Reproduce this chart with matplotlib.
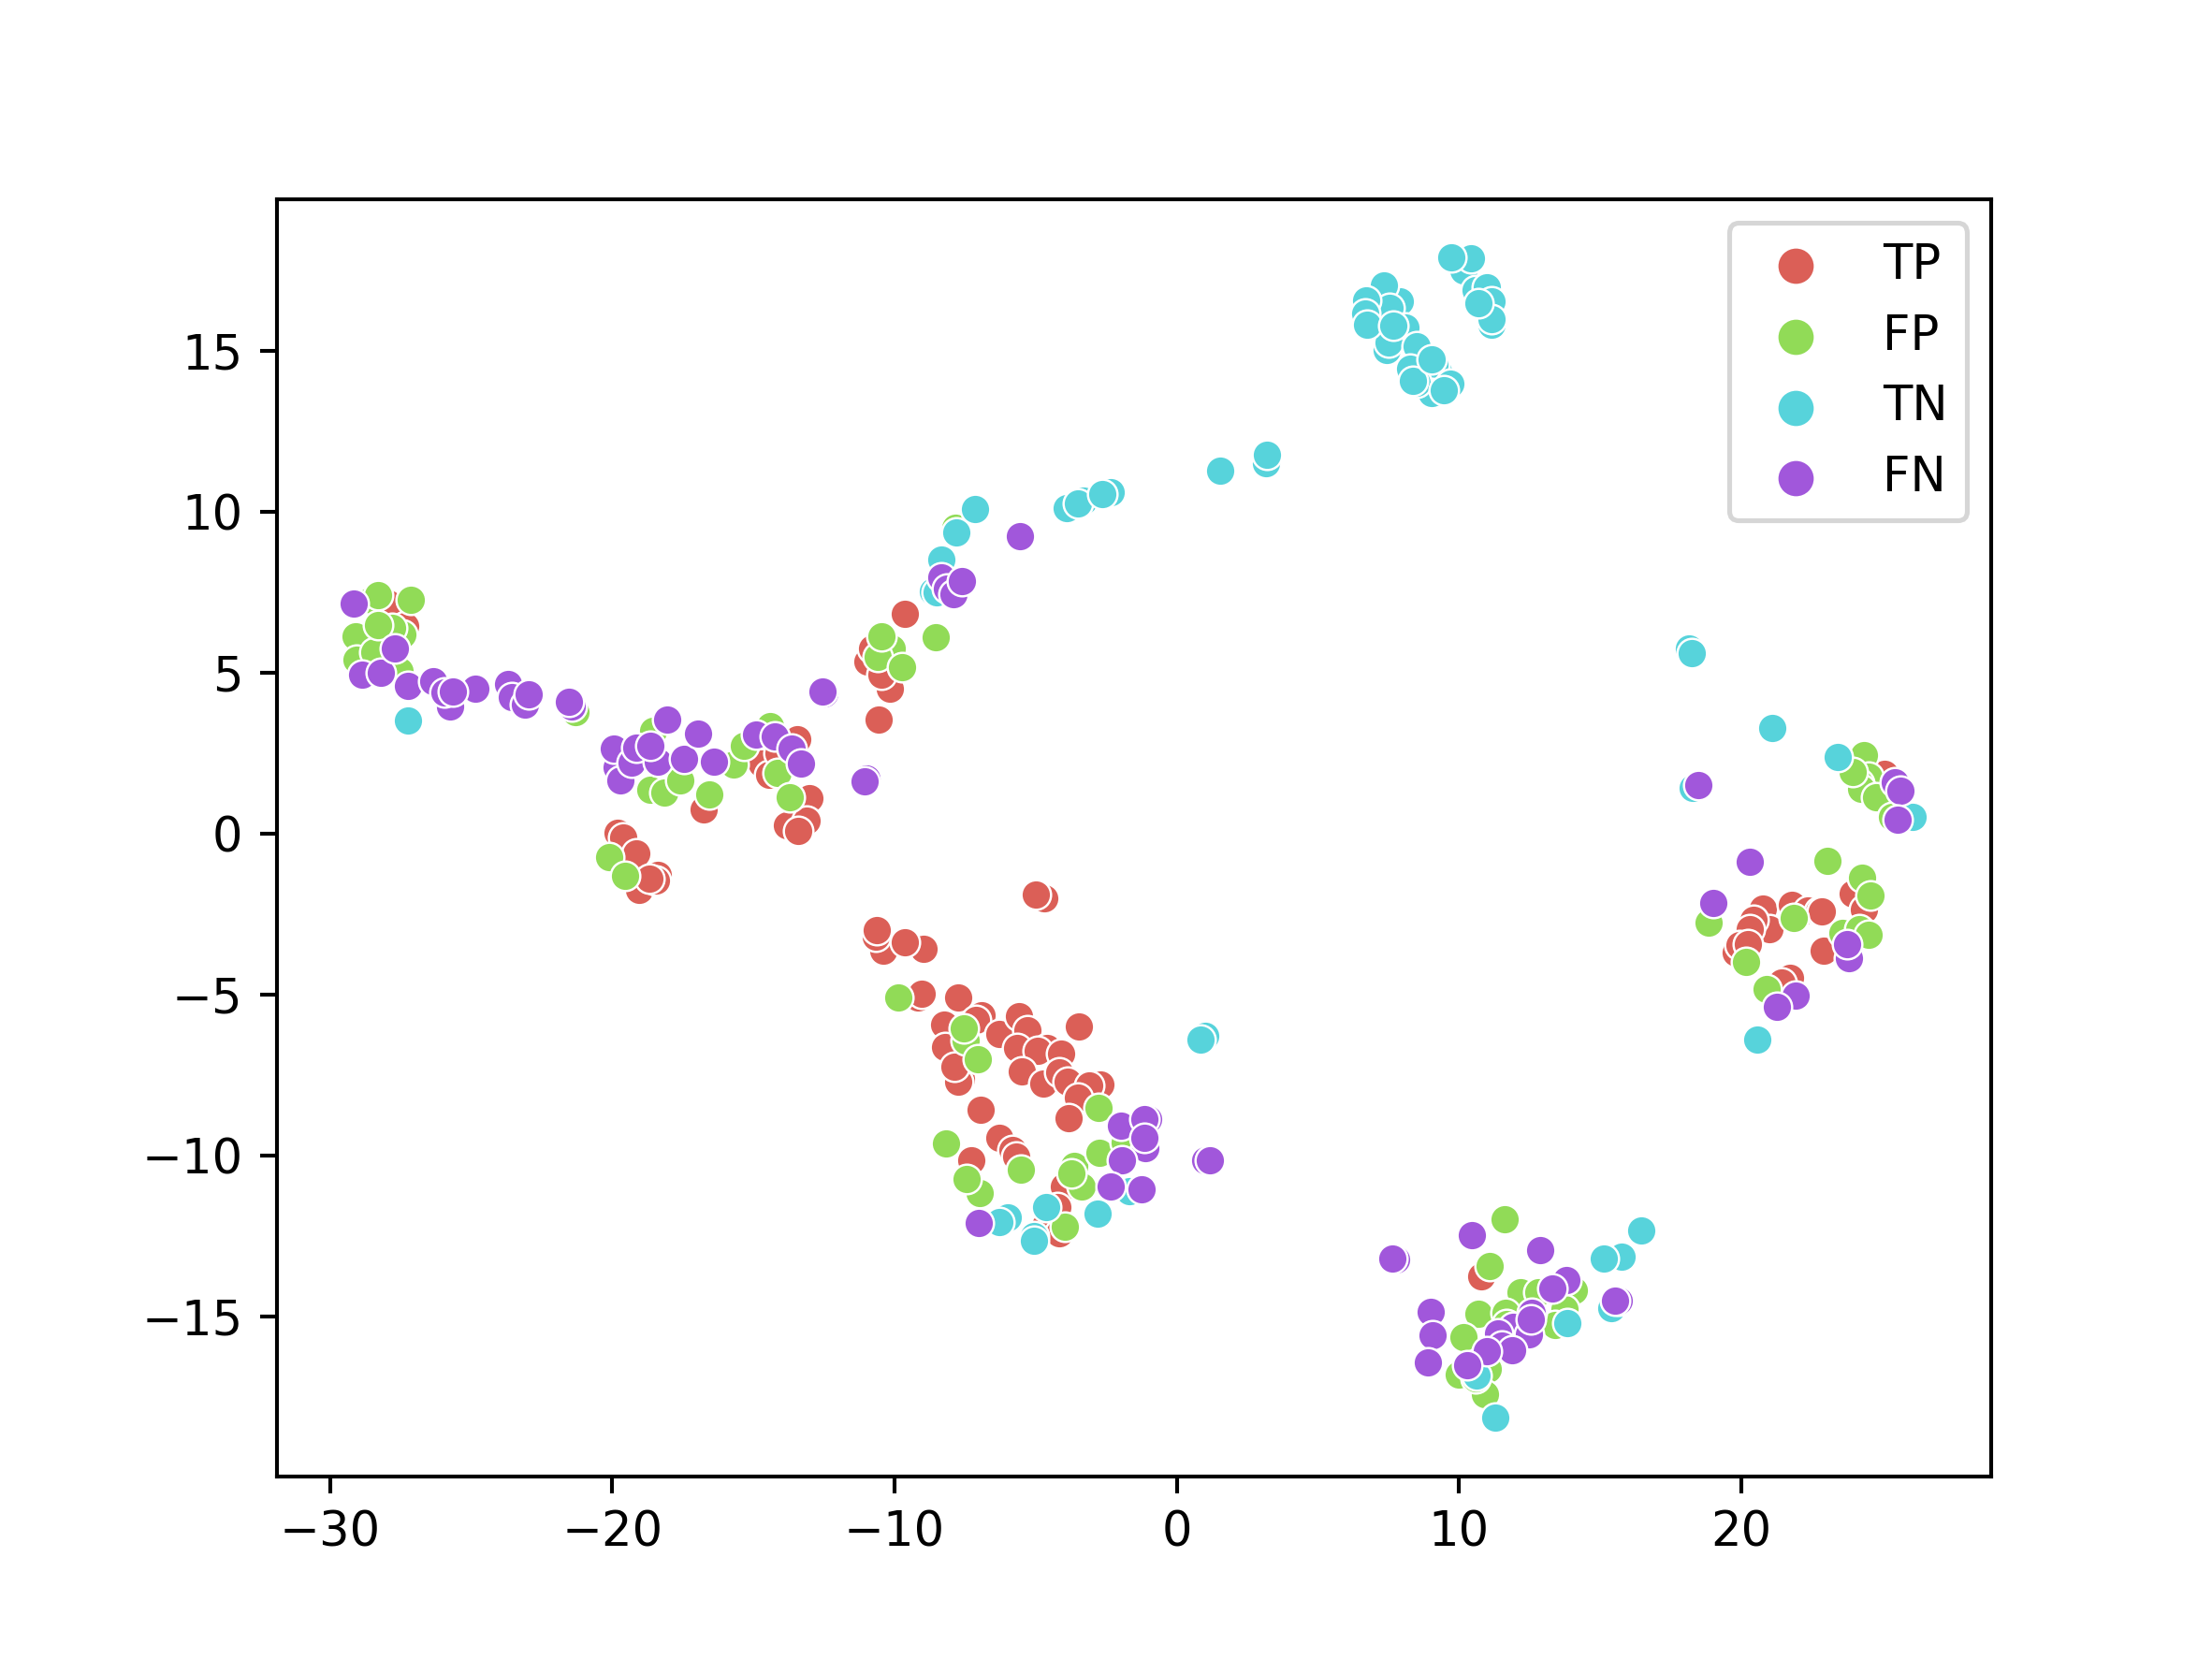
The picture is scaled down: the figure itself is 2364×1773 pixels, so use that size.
import matplotlib
matplotlib.use("Agg")
import matplotlib.pyplot as plt

labels = ["TP", "FP", "TN", "FN"]
colors = ["#db5f57", "#91db57", "#57d3db", "#a157db"]

tp_x = [-27.95,-27.35,-14.7,-14.45,-13.45,-14.1,-13,-13.8,-13.1,-13.4,-16.75,
        -19.8,-19.6,-19.15,-19.05,-18.4,-18.45,-18.7,-9.65,-10.95,-10.8,-10.15,-10.55,-10.45,
        -4.69,-5.0,-10.41,-10.66,-10.62,-8.96,-9.64,-9.16,-9.05,-7.74,-6.93,-7.1,-8.23,-8.2,-7.66,-7.74,-7.89,
        -6.29,-5.6,-5.3,-5.66,-4.58,-4.94,-4.08,-3.48,-5.48,-4.74,-4.17,-3.87,-2.7,-3.11,-3.5,-3.84,-6.95,
        -6.29,-5.83,-5.69,-7.29,-4.0,-4.22,-4.67,-4.17,10.79,
        25.07,23.97,24.36,22.92,20.76,21.81,22.36,22.75,22.86,21.0,20.43,20.3,19.82,19.93,20.23,21.73,21.43]
tp_y = [7.14,6.44,2.19,1.84,2.93,2.5,1.1,0.26,0.39,0.09,0.74,
        0.04,-0.13,-0.6,-1.75,-1.27,-1.45,-1.4,6.83,5.34,5.74,4.5,3.55,4.95,
        -2.02,-1.89,-3.65,-3.21,-2.99,-3.57,-3.37,-5.1,-4.96,-5.1,-5.63,-5.78,-5.92,-6.63,-7.62,-7.7,-7.25,
        -6.21,-5.68,-6.1,-6.65,-6.65,-6.75,-6.82,-6.0,-7.39,-7.77,-7.42,-7.71,-7.79,-7.81,-8.2,-8.83,-8.59,
        -9.44,-9.84,-10.04,-10.16,-10.96,-11.59,-12.17,-12.41,-13.74,
        1.87,-1.86,-2.37,-3.65,-2.34,-2.2,-2.39,-2.41,-2.42,-2.97,-2.68,-2.97,-3.7,-3.46,-3.43,-4.47,-4.62]

fp_x = [-28.55,-28.3,-27.15,-29.1,-29.05,-28.45,-27.45,-27.55,-27.8,-28.3,-21.3,
        -18.55,-18.65,-18.15,-17.6,-16.55,-15.7,-15.35,-14.4,-14.15,-13.7,
        -20.1,-19.55,-10.1,-10.6,-10.45,-9.75,-8.55,-7.85,
        -9.86,-7.48,-7.54,-7.04,-2.76,-8.18,-5.53,-6.97,-7.46,-3.64,-3.37,-3.73,-2.75,-1.85,-3.98,
        11.63,11.1,12.2,12.8,14.07,13.74,13.41,10.7,11.64,11.7,10.15,9.98,11.03,10.92,10.59,
        24.35,24.52,24.19,24.24,23.97,24.8,25.35,23.06,24.3,24.58,18.86,21.87,23.58,24.19,24.52,20.19,20.91]
fp_y = [7.25,7.4,7.27,6.13,5.4,5.65,6.18,5.04,6.4,6.48,3.77,
        3.2,1.36,1.27,1.66,1.23,2.15,2.72,3.33,1.88,1.14,
        -0.74,-1.31,5.74,5.5,6.13,5.17,6.09,9.5,
        -5.1,-6.44,-6.04,-7.02,-8.51,-9.63,-10.43,-11.17,-10.73,-10.33,-10.96,-10.54,-9.92,-9.6,-12.2,
        -11.98,-13.44,-14.25,-14.25,-14.18,-14.78,-15.27,-14.91,-14.88,-15.22,-15.63,-16.8,-16.62,-17.42,-16.92,
        2.45,1.77,1.58,1.38,1.92,1.14,0.51,-0.84,-1.37,-1.91,-2.76,-2.63,-3.07,-2.97,-3.13,-3.99,-4.84]

tn_x = [-27.25,-8.35,-8.65,-8.5,-7.8,-7.15,-3.9,-3.3,-3.5,-2.35,-2.65,1.55,3.15,3.2,
        1.0,0.83,-5.99,-6.27,-4.63,-5.05,-5.05,-2.79,-1.68,
        16.45,15.76,15.15,15.4,13.85,10.64,11.29,
        21.09,23.44,26.07,18.27,20.56,18.15,18.25,
        10.15,10.42,9.74,10.59,10.98,11.14,11.14,11.14,10.7,
        7.9,7.33,7.55,6.72,6.69,8.1,7.44,7.5,8.51,9.26,9.15,9.04,9.7,8.27,8.49,8.38,9.02,9.48,6.75,7.66]
tn_y = [3.5,8.5,7.53,7.49,9.37,10.07,10.12,10.34,10.25,10.6,10.56,11.26,11.52,11.78,
        -6.28,-6.41,-11.93,-12.07,-11.6,-12.5,-12.66,-11.8,-11.1,
        -12.32,-13.14,-13.21,-14.73,-15.19,-16.82,-18.13,
        3.29,2.38,0.51,1.43,-6.39,5.75,5.62,
        17.5,17.87,17.89,16.87,16.97,16.53,15.81,15.98,16.47,
        16.53,17.02,16.34,16.56,16.15,15.71,15.03,15.27,15.13,14.36,14.55,13.68,13.97,14.45,14.0,14.07,14.74,13.77,15.81,15.79]

fn_x = [-29.15,-28.85,-28.2,-27.7,-27.25,-26.35,-25.75,-25.95,-24.85,-23.7,-23.55,-23.1,-22.95,-21.45,-21.55,-25.65,
        -19.85,-19.95,-19.7,-19.3,-19.15,-18.4,-18.05,-17.45,-16.95,-16.4,-18.65,
        -14.9,-14.25,-13.65,-13.3,-12.5,-12.55,-11.0,-11.05,
        -8.35,-8.15,-7.9,-7.6,-5.55,
        -1.96,-1.02,-1.13,-1.1,-1.13,-1.93,-2.35,-1.26,-7.01,1.0,1.17,
        7.77,7.64,10.46,12.89,8.99,9.07,8.89,13.8,13.32,15.67,15.54,
        12.58,11.92,12.47,12.56,11.39,11.53,11.89,10.98,10.29,
        18.5,25.46,25.65,25.55,20.32,19.02,23.81,23.77,21.94,21.26]
fn_y = [7.14,4.95,5.0,5.75,4.6,4.73,3.94,4.4,4.5,4.64,4.25,4.0,4.33,3.94,4.1,4.42,
        2.06,2.63,1.66,2.2,2.67,2.23,3.55,2.32,3.11,2.23,2.72,
        3.07,3.02,2.63,2.19,4.35,4.42,1.7,1.62,
        7.97,7.6,7.45,7.84,9.24,
        -9.07,-8.86,-8.86,-9.77,-9.44,-10.14,-10.95,-11.04,-12.09,-10.16,-10.14,
        -13.23,-13.2,-12.46,-12.93,-14.86,-15.58,-16.43,-13.88,-14.12,-14.52,-14.51,
        -14.88,-15.32,-15.56,-15.1,-15.51,-15.9,-16.06,-16.09,-16.5,
        1.51,1.6,1.34,0.42,-0.87,-2.15,-3.87,-3.43,-5.02,-5.37]

xs = [tp_x, fp_x, tn_x, fn_x]
ys = [tp_y, fp_y, tn_y, fn_y]

fig, ax = plt.subplots(figsize=(2364/369.375, 1773/369.375), dpi=369.375)
for x, y, c, lab in zip(xs, ys, colors, labels):
    ax.scatter(x, y, s=38, c=c, edgecolors="white", linewidths=0.48, label=lab)
ax.set_xlim(-31.9, 28.85)
ax.set_ylim(-19.97, 19.71)
ax.set_xticks([-30, -20, -10, 0, 10, 20])
ax.set_yticks([-15, -10, -5, 0, 5, 10, 15])
ax.legend(loc="upper right", markerscale=1.27)
fig.savefig("out.png", dpi=369.375)
